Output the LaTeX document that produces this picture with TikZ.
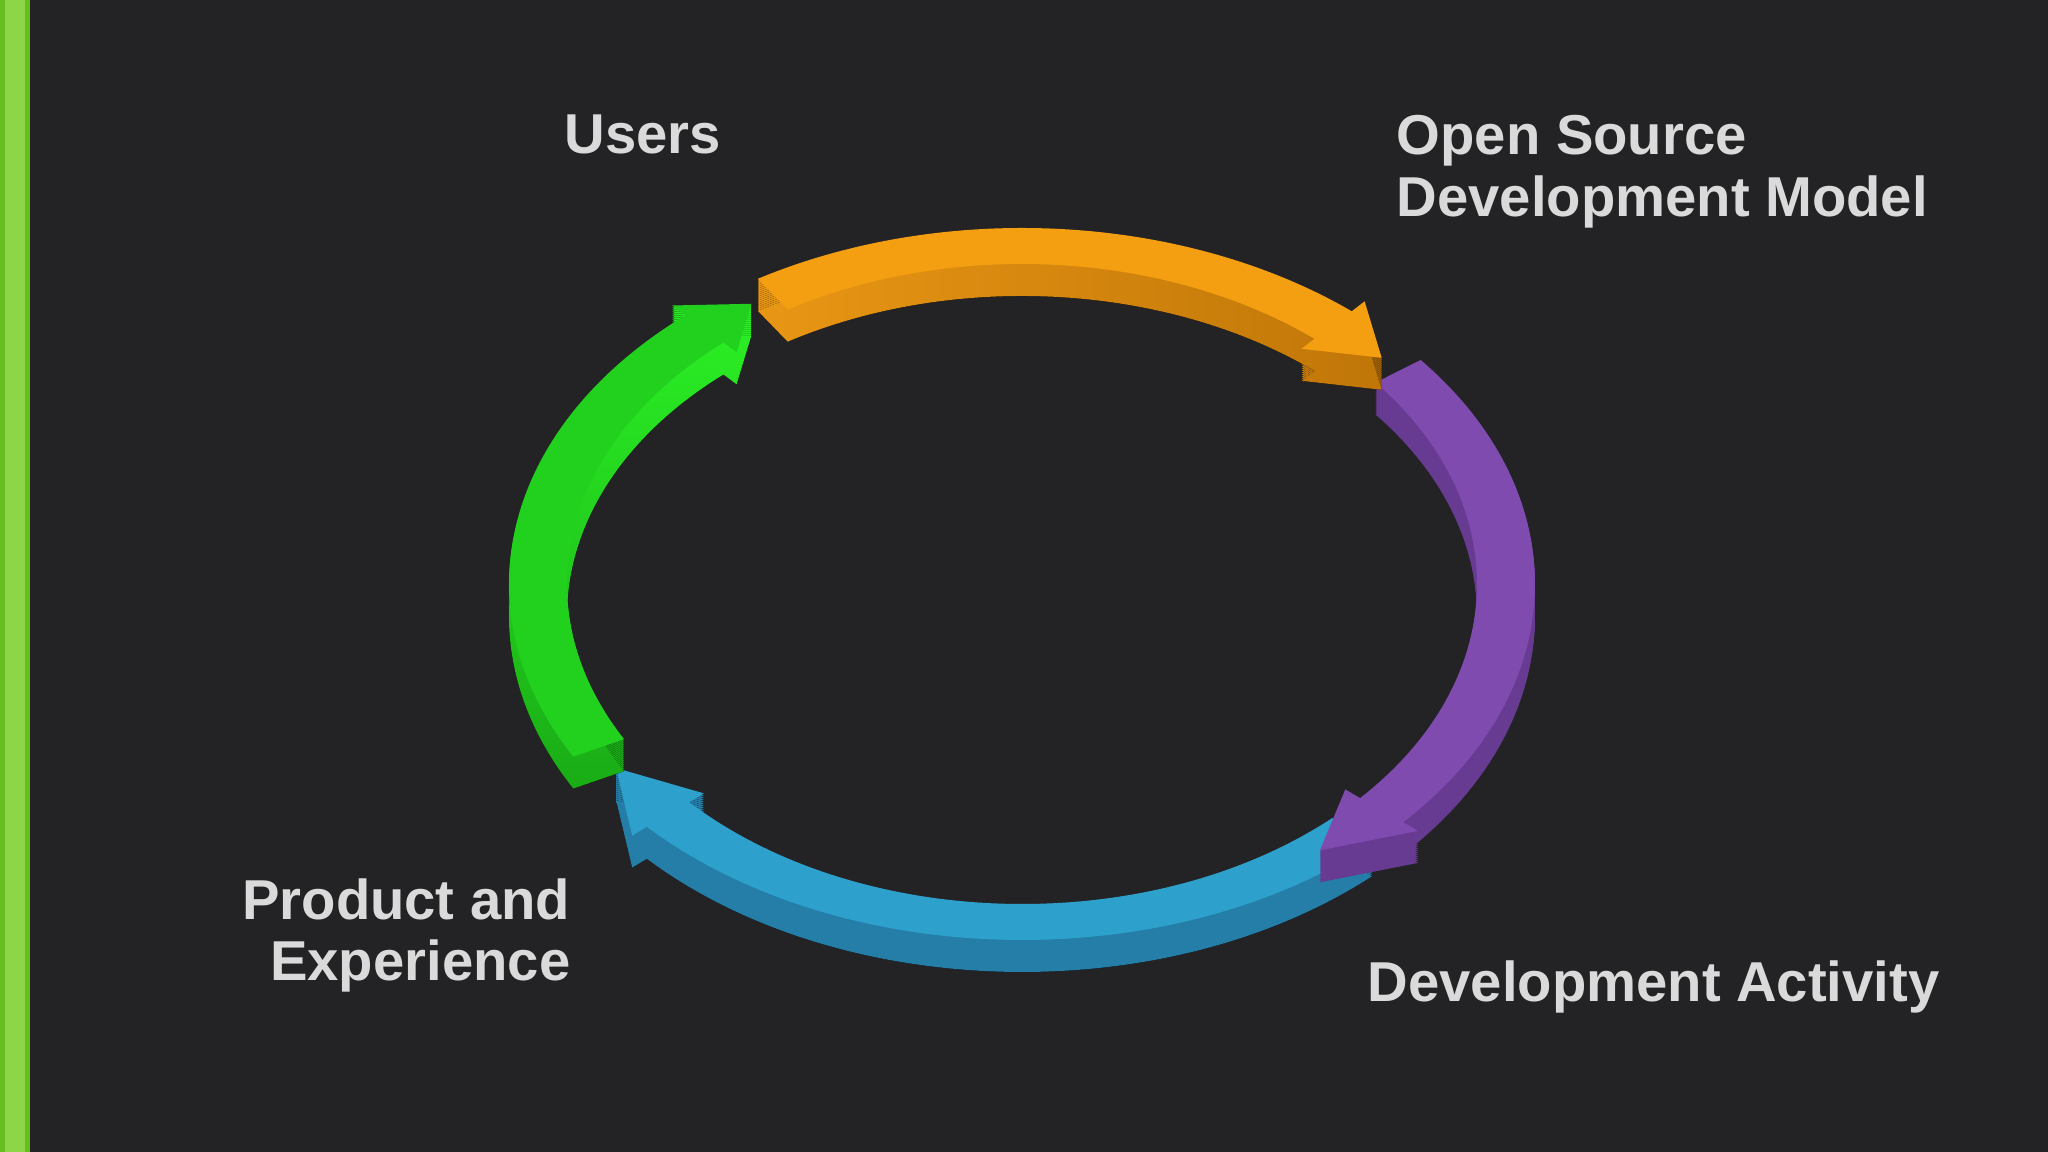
\documentclass[tikz,border=0pt]{standalone}
\usepackage{fontspec}
\setmainfont{Liberation Sans}
\usetikzlibrary{positioning}

\definecolor{bgdark}{RGB}{35,35,37}
\definecolor{bardark}{RGB}{104,190,32}
\definecolor{barlight}{RGB}{140,214,72}
\definecolor{labelgray}{RGB}{218,218,218}
\definecolor{orangetop}{RGB}{244,159,18}
\definecolor{orangeside}{RGB}{192,118,8}
\definecolor{orangemid}{RGB}{232,150,20}
\definecolor{orangetan}{RGB}{214,160,84}
\definecolor{purpletop}{RGB}{127,75,175}
\definecolor{purpleside}{RGB}{104,59,146}
\definecolor{bluetop}{RGB}{46,160,204}
\definecolor{blueside}{RGB}{36,126,168}
\definecolor{bluesheen}{RGB}{80,150,172}
\definecolor{greentop}{RGB}{34,209,30}
\definecolor{greenlight}{RGB}{42,236,36}
\definecolor{greenside}{RGB}{26,172,22}

% one ring segment: tail angle, head base angle, tip angle
\newcommand{\ringpath}[3]{%
  (#1:5.13 and 3.56) arc[start angle=#1, end angle=#2, x radius=5.13, y radius=3.56]
  -- (#2:5.33 and 3.69) -- (#3:4.84 and 3.38) -- (#2:4.35 and 3.07)
  -- (#2:4.55 and 3.2) arc[start angle=#2, end angle=#1, x radius=4.55, y radius=3.2] -- cycle}

\begin{document}
\begin{tikzpicture}

    \tikzstyle{lbl}=[inner sep=0pt,text=labelgray,font=\fontsize{16}{17.4}\selectfont\bfseries]
    \tikzstyle{seg_side}=[draw=none]
    \useasboundingbox (0,0) rectangle (20.48,11.52);
    \fill[bgdark] (0,0) rectangle (20.48,11.52);
    \fill[bardark] (0,0) rectangle (0.30,11.52);
    \fill[barlight] (0.05,0) rectangle (0.25,11.52);
    \coordinate (origo) at (10.22,5.68);

\begin{scope}[shift={(origo)}]
    % blue: development activity -> product
    \foreach \dz in {0.02,0.04,...,0.32} {\fill[seg_side,left color=blueside,middle color=bluesheen,right color=blueside,yshift=-\dz cm] \ringpath{-47}{-137}{-147};}
    \fill[bluetop] \ringpath{-47}{-137}{-147};

    % purple
    \foreach \dz in {0.02,0.04,...,0.32} {\fill[seg_side,purpleside,yshift=-\dz cm] \ringpath{39}{-42}{-52};}
    \fill[purpletop] \ringpath{39}{-42}{-52};

    % green
    \foreach \dz in {0.02,0.04,...,0.32} {\fill[seg_side,top color=greenlight,bottom color=greenside,yshift=-\dz cm] \ringpath{209}{131}{124};}
    \fill[greentop] \ringpath{209}{131}{124};

    % orange
    \foreach \dz in {0.02,0.04,...,0.32} {\fill[seg_side,left color=orangemid,middle color=orangetan,right color=orangeside,yshift=-\dz cm] \ringpath{121}{50}{42};}
    \fill[orangetop] \ringpath{121}{50}{42};
\end{scope}

\node (users_label) [lbl,anchor=base,xshift=-3.79cm,yshift=4.30cm] at (origo) {Users};
\node (model_label) [lbl,anchor=north west,align=left,xshift=3.74cm,yshift=4.69cm] at (origo) {Open Source\\Development Model};
\node (product_label) [lbl,anchor=north east,align=right,xshift=-4.51cm,yshift=-2.94cm] at (origo) {Product and\\Experience};
\node (activity_label) [lbl,anchor=base west,xshift=3.45cm,yshift=-4.18cm] at (origo) {Development Activity};

\end{tikzpicture}
\end{document}
